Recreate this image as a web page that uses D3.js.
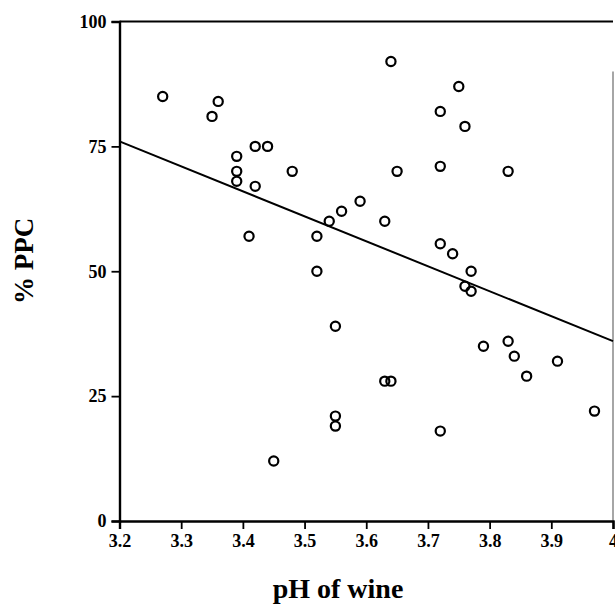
<!DOCTYPE html>
<html>
<head>
<meta charset="utf-8">
<script src="https://cdn.jsdelivr.net/npm/d3@7"></script>
<style>
  body { margin: 0; background: #fff; }
  svg text { font-family: "Liberation Serif", "Times New Roman", serif; font-weight: bold; }
</style>
</head>
<body>
<div id="chart"></div>
<script>
// pH of each wine and its % PPC
const phValues = [3.27, 3.36, 3.35, 3.39, 3.39, 3.39, 3.42, 3.44, 3.42, 3.41, 3.48, 3.45,
  3.52, 3.52, 3.54, 3.56, 3.59, 3.63, 3.64, 3.65, 3.55, 3.55, 3.55, 3.63, 3.64,
  3.72, 3.75, 3.76, 3.72, 3.72, 3.74, 3.77, 3.76, 3.77, 3.72, 3.83, 3.79, 3.83,
  3.84, 3.86, 3.91, 3.97];
const ppcValues = [85, 84, 81, 73, 70, 68, 75, 75, 67, 57, 70, 12,
  57, 50, 60, 62, 64, 60, 92, 70, 39, 21, 19, 28, 28,
  82, 87, 79, 71, 55.5, 53.5, 50, 47, 46, 18, 70, 35, 36,
  33, 29, 32, 22];

// fitted line: ppc = intercept + slope * pH
const fitIntercept = 236;
const fitSlope = -50;

const xTicks = [3.2, 3.3, 3.4, 3.5, 3.6, 3.7, 3.8, 3.9, 4.0];
const yTicks = [0, 25, 50, 75, 100];

const width = 615, height = 606;
const margin = { top: 21.5, right: 2, bottom: 85, left: 119.5 };

const svg = d3.select('#chart').append('svg')
  .attr('width', width)
  .attr('height', height);

const x = d3.scaleLinear().domain([3.2, 4.0]).range([margin.left, width - margin.right]);
const y = d3.scaleLinear().domain([0, 100]).range([height - margin.bottom, margin.top]);

// frame (top and right edges)
svg.append('line')
  .attr('x1', x(3.2)).attr('x2', x(4.0))
  .attr('y1', y(100)).attr('y2', y(100))
  .attr('stroke', '#000').attr('stroke-width', 2.2);
svg.append('line')
  .attr('x1', x(4.0)).attr('x2', x(4.0))
  .attr('y1', y(90)).attr('y2', y(0))
  .attr('stroke', '#888').attr('stroke-width', 1.5);

// x axis
const xAxis = svg.append('g')
  .attr('transform', `translate(0,${y(0)})`)
  .call(d3.axisBottom(x).tickValues(xTicks).tickFormat(d3.format('.1f')).tickSize(8).tickPadding(5));

// y axis
const yAxis = svg.append('g')
  .attr('transform', `translate(${x(3.2)},0)`)
  .call(d3.axisLeft(y).tickValues(yTicks).tickSize(8).tickPadding(5));

[xAxis, yAxis].forEach(ax => {
  ax.select('.domain').attr('stroke', '#000').attr('stroke-width', 2.4);
  ax.selectAll('.tick line').attr('stroke', '#000').attr('stroke-width', 1.8);
  ax.selectAll('.tick text')
    .attr('fill', '#000')
    .style('font-size', '18px')
    .style('font-family', '"Liberation Serif", serif')
    .style('font-weight', 'bold');
});
// the 4.0 label is cut at the picture edge
xAxis.selectAll('.tick text').filter(d => d === 4.0).text('4');

// regression line
svg.append('line')
  .attr('x1', x(3.2)).attr('y1', y(fitIntercept + fitSlope * 3.2))
  .attr('x2', x(4.0)).attr('y2', y(fitIntercept + fitSlope * 4.0))
  .attr('stroke', '#000').attr('stroke-width', 2);

// points
const points = phValues.map((ph, i) => ({ ph: ph, ppc: ppcValues[i] }));
svg.selectAll('.pt')
  .data(points)
  .enter()
  .append('circle')
  .attr('class', 'pt')
  .attr('cx', d => x(d.ph))
  .attr('cy', d => y(d.ppc))
  .attr('r', 4.6)
  .attr('fill', 'none')
  .attr('stroke', '#000')
  .attr('stroke-width', 2.2);

// axis titles
svg.append('text')
  .attr('x', 338)
  .attr('y', 598)
  .attr('text-anchor', 'middle')
  .style('font-size', '28px')
  .text('pH of wine');

svg.append('text')
  .attr('transform', 'translate(33,261) rotate(-90)')
  .attr('text-anchor', 'middle')
  .style('font-size', '27px')
  .text('% PPC');
</script>
</body>
</html>
